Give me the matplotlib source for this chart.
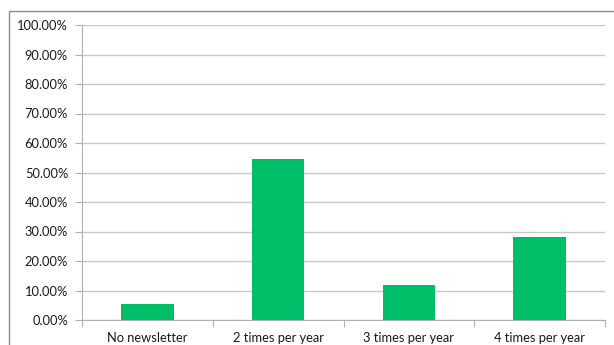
import matplotlib
matplotlib.use('Agg')
import matplotlib.pyplot as plt
from matplotlib.patches import Rectangle
from matplotlib.ticker import PercentFormatter

# values
categories = ['No newsletter', '2 times per year', '3 times per year', '4 times per year']
shares = [5.5, 54.5, 11.8, 28.1]
yticks = [0, 10, 20, 30, 40, 50, 60, 70, 80, 90, 100]

plt.rcParams['font.family'] = ['Lato', 'DejaVu Sans']

W, H = 614, 345
fig = plt.figure(figsize=(W / 100, H / 100), dpi=100)
fig.patch.set_facecolor('white')

# outer chart frame (cut off at right and bottom)
fig.patches.append(Rectangle((8.5 / W, -0.05), 1.2, 1 - 10.5 / H + 0.05,
                             transform=fig.transFigure, fill=False,
                             edgecolor='#8c8c8c', linewidth=1.0))

ax = fig.add_axes([82 / W, 1 - 320 / H, (605 - 82) / W, (320 - 25) / H])
x = range(len(categories))
ax.bar(x, shares, width=0.4, color='#00bd68', zorder=3)

ax.set_xlim(-0.5, len(categories) - 0.5)
ax.set_ylim(0, 100)
ax.set_yticks(yticks)
ax.yaxis.set_major_formatter(PercentFormatter(decimals=2))
ax.set_xticks([i - 0.5 for i in range(len(categories) + 1)], minor=False)
ax.set_xticklabels([])
ax.set_xticks(list(x), minor=True)
ax.set_xticklabels(categories, minor=True)

ax.grid(axis='y', color='#c8c8c8', linewidth=1.0, zorder=0)
for s in ['top', 'right']:
    ax.spines[s].set_visible(False)
ax.spines['left'].set_color('#b0b0b0')
ax.spines['bottom'].set_color('#b0b0b0')

ax.tick_params(axis='y', length=5, color='#b0b0b0', labelsize=9.3, pad=5, labelcolor='#1a1a1a')
ax.tick_params(axis='x', which='major', length=5, color='#b0b0b0')
ax.tick_params(axis='x', which='minor', length=0, labelsize=9.3, pad=9, labelcolor='#1a1a1a')

fig.savefig('out.png', dpi=100)
